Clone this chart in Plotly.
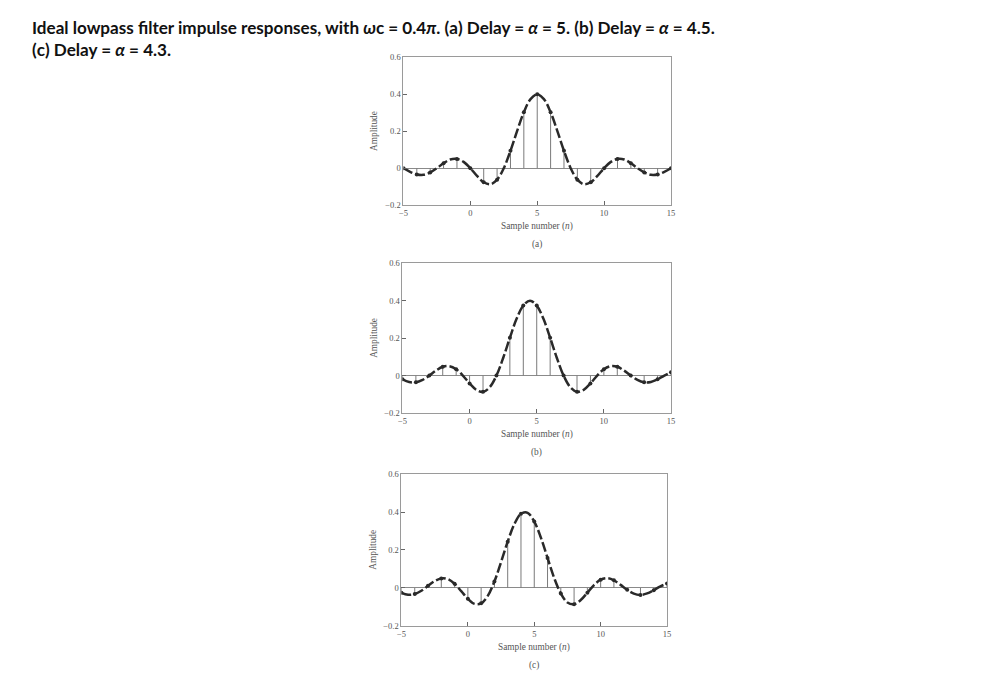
import plotly.graph_objects as go

W, H = 997, 679
OFF = 8  # page body margin compensation

# Sample indices
n = list(range(-5, 16))

# (a) delay alpha = 5 : sample values
h_a = [0.0, -0.034, -0.023, 0.027, 0.050, 0.0, -0.076, -0.062, 0.094, 0.303, 0.400,
       0.303, 0.094, -0.062, -0.076, 0.0, 0.050, 0.027, -0.023, -0.034, 0.0]
# (b) delay alpha = 4.5
h_b = [-0.020, -0.036, 0.0, 0.047, 0.034, -0.042, -0.087, 0.0, 0.202, 0.374, 0.374,
       0.202, 0.0, -0.087, -0.042, 0.034, 0.047, 0.0, -0.036, -0.020, 0.018]
# (c) delay alpha = 4.3
h_c = [-0.026, -0.032, 0.011, 0.050, 0.022, -0.057, -0.081, 0.034, 0.244, 0.391, 0.350,
       0.158, -0.029, -0.086, -0.025, 0.043, 0.040, -0.010, -0.037, -0.012, 0.023]

# Continuous envelopes, read at half-sample positions
t_half = [-4.5, -3.5, -2.5, -1.5, -0.5, 0.5, 1.5, 2.5, 3.5, 4.5, 5.5, 6.5, 7.5, 8.5,
          9.5, 10.5, 11.5, 12.5, 13.5, 14.5]
c_a_half = [-0.020, -0.036, 0.0, 0.047, 0.034, -0.042, -0.087, 0.0, 0.202, 0.374, 0.374,
            0.202, 0.0, -0.087, -0.042, 0.034, 0.047, 0.0, -0.036, -0.020]
c_b_half = [-0.034, -0.023, 0.027, 0.050, 0.0, -0.076, -0.062, 0.094, 0.303, 0.400,
            0.303, 0.094, -0.062, -0.076, 0.0, 0.050, 0.027, -0.023, -0.034, 0.0]
c_c_half = [-0.036, -0.015, 0.036, 0.046, -0.017, -0.084, -0.042, 0.136, 0.336, 0.396,
            0.265, 0.053, -0.077, -0.064, 0.015, 0.051, 0.016, -0.030, -0.029, 0.008]

x_ticks = [-5, 0, 5, 10, 15]
y_ticks = [-0.2, 0, 0.2, 0.4, 0.6]
y_tick_text = ["\u22120.2", "0", "0.2", "0.4", "0.6"]
panel_tags = ["(a)", "(b)", "(c)"]
title_text = ("<b>Ideal lowpass filter impulse responses, with <i>\u03c9</i>c = 0.4<i>\u03c0</i>. "
              "(a) Delay = <i>\u03b1</i> = 5. (b) Delay = <i>\u03b1</i> = 4.5.<br>"
              "(c) Delay = <i>\u03b1</i> = 4.3.</b>")

# pixel boxes of the three plot areas in the screenshot: (left, right, top, bottom)
boxes = [(402, 672, 53, 203), (401, 672, 262, 414), (400, 668, 476, 630)]

def px(x):
    return (x - OFF) / W

def py(y):
    return 1 - (y - OFF) / H

fig = go.Figure()

def merge(ns, vs, th, tv):
    pts = sorted(list(zip(ns, vs)) + list(zip(th, tv)))
    return [p[0] for p in pts], [p[1] for p in pts]

datasets = [(h_a, c_a_half), (h_b, c_b_half), (h_c, c_c_half)]
annotations = []
layout_axes = {}
lab_font = dict(family="Liberation Serif", size=9.3, color="#555")
for i, ((hv, cv), (l, r, t, b)) in enumerate(zip(datasets, boxes)):
    xa = "x" if i == 0 else f"x{i+1}"
    ya = "y" if i == 0 else f"y{i+1}"
    # stems
    sx, sy = [], []
    for ni, vi in zip(n, hv):
        sx += [ni, ni, None]
        sy += [0, vi, None]
    fig.add_trace(go.Scatter(x=sx, y=sy, mode="lines", line=dict(color="#7a7a7a", width=1),
                             xaxis=xa, yaxis=ya, showlegend=False, hoverinfo="skip"))
    # dashed envelope
    cx, cy = merge(n, hv, t_half, cv)
    fig.add_trace(go.Scatter(x=cx, y=cy, mode="lines",
                             line=dict(color="#2a2a2a", width=2.5, dash="10px,3px",
                                       shape="spline", smoothing=1.0),
                             xaxis=xa, yaxis=ya, showlegend=False))
    # sample dots
    fig.add_trace(go.Scatter(x=n, y=hv, mode="markers", marker=dict(color="#2a2a2a", size=4),
                             xaxis=xa, yaxis=ya, showlegend=False))
    common = dict(showline=True, linecolor="#9a9a9a", linewidth=1, mirror=True,
                  ticks="inside", ticklen=4, tickcolor="#666", showgrid=False,
                  tickfont=dict(family="Liberation Serif", size=8.5, color="#555"))
    layout_axes["xaxis" if i == 0 else f"xaxis{i+1}"] = dict(
        domain=[px(l), px(r)], range=[-5, 15], tickvals=x_ticks, zeroline=False,
        anchor=ya, **common)
    layout_axes["yaxis" if i == 0 else f"yaxis{i+1}"] = dict(
        domain=[py(b), py(t)], range=[-0.2, 0.6], tickvals=y_ticks,
        ticktext=y_tick_text, zeroline=True, zerolinecolor="#8a8a8a", zerolinewidth=1,
        anchor=xa, **common)
    cxp = px((l + r) / 2)
    annotations.append(dict(x=cxp, y=py(b + 22), xref="paper", yref="paper",
                            xanchor="center", yanchor="middle",
                            text="Sample number (<i>n</i>)", showarrow=False, font=lab_font))
    annotations.append(dict(x=cxp, y=py(b + 40), xref="paper", yref="paper",
                            xanchor="center", yanchor="middle",
                            text=panel_tags[i], showarrow=False, font=lab_font))
    annotations.append(dict(x=px(l - 29), y=py((t + b) / 2), xref="paper", yref="paper",
                            xanchor="center", yanchor="middle",
                            text="Amplitude", textangle=-90, showarrow=False, font=lab_font))

annotations.append(dict(x=px(25), y=py(10), xref="paper", yref="paper", xanchor="left",
                        yanchor="top", align="left", text=title_text, showarrow=False,
                        font=dict(family="Lato", size=17.1, color="#111")))

fig.update_layout(width=W, height=H, margin=dict(l=0, r=0, t=0, b=0),
                  paper_bgcolor="white", plot_bgcolor="white",
                  annotations=annotations, **layout_axes)

fig.write_html("out.html")
